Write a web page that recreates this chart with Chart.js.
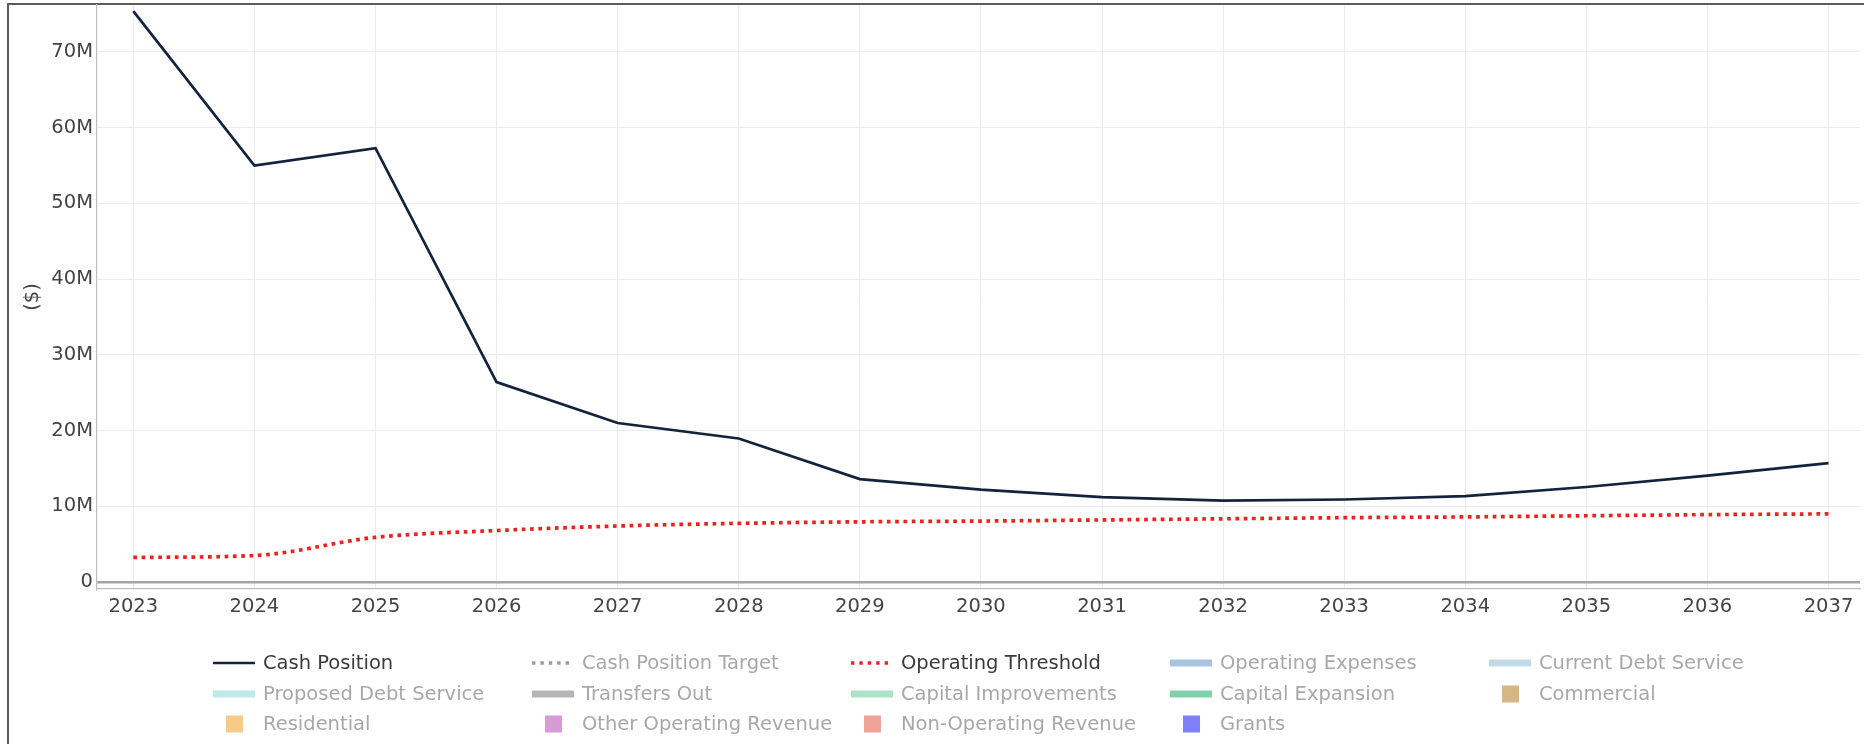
<!DOCTYPE html>
<html><head><meta charset="utf-8">
<script src="https://cdn.jsdelivr.net/npm/chart.js@4.4.1/dist/chart.umd.min.js"></script>
<style>
html,body{margin:0;padding:0;background:#fff;}
#wrap{position:relative;width:1864px;height:744px;overflow:hidden;background:#fff;}
#frame{position:absolute;left:7px;top:3px;width:2000px;height:1000px;border-left:2px solid #5c5c5c;border-top:2px solid #5c5c5c;}
canvas{position:absolute;left:0;top:0;}
</style></head><body>
<div id="wrap"><div id="frame"></div><canvas id="c" width="1864" height="744"></canvas></div>
<script>
// ---- data ----
const years = [2023,2024,2025,2026,2027,2028,2029,2030,2031,2032,2033,2034,2035,2036,2037];
const cashPosition = [75400000,55000000,57300000,26400000,21000000,18950000,13600000,12200000,11200000,10750000,10900000,11350000,12550000,14050000,15700000];
const operatingThreshold = [3250000,3500000,5900000,6800000,7400000,7750000,7950000,8050000,8200000,8350000,8500000,8600000,8750000,8900000,9000000];
const yTickValues = [0,10000000,20000000,30000000,40000000,50000000,60000000,70000000];
const yTickLabels = ['0','10M','20M','30M','40M','50M','60M','70M'];
const xTickLabels = ['2023','2024','2025','2026','2027','2028','2029','2030','2031','2032','2033','2034','2035','2036','2037'];
const legendLabels = ['Cash Position','Cash Position Target','Operating Threshold','Operating Expenses','Current Debt Service',
  'Proposed Debt Service','Transfers Out','Capital Improvements','Capital Expansion','Commercial',
  'Residential','Other Operating Revenue','Non-Operating Revenue','Grants'];

const FONT = '"DejaVu Sans", Verdana, sans-serif';
const FS = 19.5;
const pts = arr => years.map((y,i)=>({x:y,y:arr[i]}));

// legend-only traces (hidden in the reference)
const hiddenStyle = {
  'Cash Position Target': {kind:'dot', color:'#9c9c9c'},
  'Operating Expenses': {kind:'band', color:'#a7c5de'},
  'Current Debt Service': {kind:'band', color:'#c3dae9'},
  'Proposed Debt Service': {kind:'band', color:'#bfe9ea'},
  'Transfers Out': {kind:'band', color:'#b5b5b5'},
  'Capital Improvements': {kind:'band', color:'#ade3ca'},
  'Capital Expansion': {kind:'band', color:'#80d1a9'},
  'Commercial': {kind:'square', color:'#d5b786'},
  'Residential': {kind:'square', color:'#f7c98b'},
  'Other Operating Revenue': {kind:'square', color:'#d69bd6'},
  'Non-Operating Revenue': {kind:'square', color:'#eea496'},
  'Grants': {kind:'square', color:'#7f7ff7'}
};

const datasets = legendLabels.map(lbl => {
  if (lbl === 'Cash Position') return {type:'line', label:lbl, data:pts(cashPosition), borderColor:'#13223d', borderWidth:2.7, pointRadius:0, tension:0, legendKind:'line', legendColor:'#13223d'};
  if (lbl === 'Operating Threshold') return {type:'line', label:lbl, data:pts(operatingThreshold), borderColor:'#e4261e', borderWidth:3.7, borderDash:[3.7,4.6], pointRadius:0, cubicInterpolationMode:'monotone', legendKind:'dot', legendColor:'#e4261e'};
  const s = hiddenStyle[lbl];
  return {type: s.kind==='square' ? 'bar' : 'line', label:lbl, data:[], hidden:true, backgroundColor:s.color, borderColor:s.color, legendKind:s.kind, legendColor:s.color};
});

const gridLegend = {
  id:'gridLegend',
  afterDraw(chart){
    const ctx = chart.ctx;
    const cols = [213, 532, 851, 1170, 1489];
    const rows = [663, 694, 724];
    ctx.save();
    ctx.font = FS + 'px ' + FONT;
    ctx.textBaseline = 'middle';
    ctx.textAlign = 'left';
    chart.data.datasets.forEach((ds, i) => {
      const x0 = cols[i % 5], y = rows[Math.floor(i / 5)];
      const hidden = !chart.isDatasetVisible(i);
      ctx.setLineDash([]);
      if (ds.legendKind === 'line') {
        ctx.strokeStyle = ds.legendColor; ctx.lineWidth = 2.7;
        ctx.beginPath(); ctx.moveTo(x0, y); ctx.lineTo(x0 + 42, y); ctx.stroke();
      } else if (ds.legendKind === 'dot') {
        ctx.strokeStyle = ds.legendColor; ctx.lineWidth = 3.4; ctx.setLineDash([3.4, 5]);
        ctx.beginPath(); ctx.moveTo(x0, y); ctx.lineTo(x0 + 42, y); ctx.stroke();
        ctx.setLineDash([]);
      } else if (ds.legendKind === 'band') {
        ctx.fillStyle = ds.legendColor;
        ctx.fillRect(x0, y - 3.5, 42, 7);
      } else {
        ctx.fillStyle = ds.legendColor;
        ctx.fillRect(x0 + 13, y - 8.5, 17, 17);
      }
      ctx.fillStyle = hidden ? '#a8a8a8' : '#3a3a3a';
      ctx.fillText(ds.label, x0 + 50, y + 1);
    });
    ctx.restore();
  }
};

new Chart(document.getElementById('c'), {
  type:'line',
  data:{datasets},
  options:{
    responsive:false, animation:false, devicePixelRatio:1,
    layout:{padding:{top:5, right:4, left:0, bottom:0}},
    plugins:{legend:{display:false}, tooltip:{enabled:false}},
    scales:{
      x:{
        type:'linear', min:2022.7, max:2037.26, offset:false,
        afterBuildTicks: s => { s.ticks = years.map(v=>({value:v})); },
        afterFit: s => { s.height = 155; s.paddingLeft = 0; s.paddingRight = 0; },
        ticks:{color:'#444', font:{family:FONT, size:FS}, padding:6, maxRotation:0, autoSkip:false,
          callback: v => { const i = years.indexOf(v); return i>=0 ? xTickLabels[i] : ''; }},
        grid:{color:'#ebebeb', lineWidth:1, drawTicks:false, offset:false},
        border:{display:true, color:'#bdbdbd', width:1.2}
      },
      y:{
        type:'linear', min:-920000, max:76200000,
        afterBuildTicks: s => { s.ticks = yTickValues.map(v=>({value:v})); },
        afterFit: s => { s.width = 97; s.paddingTop = 0; s.paddingBottom = 0; },
        ticks:{color:'#444', font:{family:FONT, size:FS}, padding:4,
          callback: v => { const i = yTickValues.indexOf(v); return i>=0 ? yTickLabels[i] : ''; }},
        grid:{drawTicks:false,
          color: c => c.tick && c.tick.value === 0 ? '#a3a3a3' : '#ececec',
          lineWidth: c => c.tick && c.tick.value === 0 ? 2.6 : 1},
        border:{display:true, color:'#bdbdbd', width:1.2},
        title:{display:true, text:'($)', color:'#444', font:{family:FONT, size:FS}, padding:{top:21, bottom:0}}
      }
    }
  },
  plugins:[gridLegend]
});
</script>
</body></html>
